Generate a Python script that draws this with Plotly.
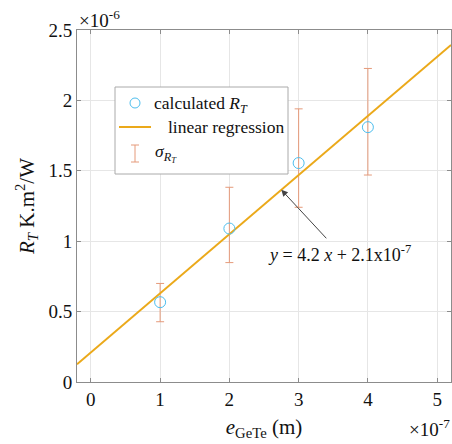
import plotly.graph_objects as go

# Data (x in units of 1e-7 m, y in units of 1e-6 K.m^2/W)
e_gete = [1, 2, 3, 4]
r_t = [0.567, 1.09, 1.555, 1.81]
r_t_err_plus = [0.133, 0.293, 0.385, 0.417]
r_t_err_minus = [0.139, 0.242, 0.314, 0.34]
fit_x = [-0.2, 5.2]
slope_scaled = 0.42   # 4.2 * 1e-7 / 1e-6
intercept_scaled = 0.21  # 2.1e-7 / 1e-6
fit_y = [slope_scaled * v + intercept_scaled for v in fit_x]
x_ticks = [0, 1, 2, 3, 4, 5]
y_ticks = [0, 0.5, 1, 1.5, 2, 2.5]
y_tick_text = ["0", "0.5", "1", "1.5", "2", "2.5"]

FONT = "Liberation Serif"
BLUE = "#4DBEEE"
ORANGE = "#EBA91A"
ERR = "#E59A7A"

W, H = 452, 444
L, R, T, B = 77, 1, 30, 62
pw, ph = W - L - R, H - T - B


def px(x):
    return (x - L) / pw


def py(y):
    return (H - B - y) / ph


fig = go.Figure()
fig.add_trace(go.Scatter(
    x=e_gete, y=r_t, mode="markers",
    marker=dict(size=1, color="rgba(0,0,0,0)"),
    error_y=dict(type="data", symmetric=False, array=r_t_err_plus,
                 arrayminus=r_t_err_minus, color=ERR, thickness=1, width=4),
    showlegend=False, hoverinfo="skip"))
fig.add_trace(go.Scatter(
    x=fit_x, y=fit_y, mode="lines",
    line=dict(color=ORANGE, width=2), showlegend=False))
fig.add_trace(go.Scatter(
    x=e_gete, y=r_t, mode="markers",
    marker=dict(symbol="circle-open", size=11, color=BLUE, line=dict(width=1, color=BLUE)),
    showlegend=False))

axis_common = dict(
    showline=True, linecolor="#8c8c8c", linewidth=1, mirror="ticks",
    ticks="inside", ticklen=4, tickcolor="#8c8c8c",
    showgrid=True, gridcolor="#e6e6e6", gridwidth=1, zeroline=False,
    tickfont=dict(family=FONT, size=19, color="#111"),
)

fig.update_layout(
    width=W, height=H,
    margin=dict(l=L, r=R, t=T, b=B, pad=0),
    paper_bgcolor="white", plot_bgcolor="white",
    font=dict(family=FONT, color="#111"),
    xaxis=dict(range=[-0.2, 5.2], tickvals=x_ticks, ticktext=[str(v) for v in x_ticks],
               title=dict(text="<i>e</i><sub>GeTe</sub> (m)", font=dict(family=FONT, size=21), standoff=10),
               **axis_common),
    yaxis=dict(range=[0, 2.5], tickvals=y_ticks, ticktext=y_tick_text,
               title=dict(text="<i>R</i><sub><i>T</i></sub> K.m<sup>2</sup>/W", font=dict(family=FONT, size=21), standoff=8),
               **axis_common),
)

# exponent labels
fig.add_annotation(text="×10<sup>-6</sup>", xref="paper", yref="paper",
                   x=px(77), y=py(19), xanchor="left", yanchor="middle", showarrow=False,
                   font=dict(family=FONT, size=19, color="#111"))
fig.add_annotation(text="×10<sup>-7</sup>", xref="paper", yref="paper",
                   x=px(452), y=py(428), xanchor="right", yanchor="middle", showarrow=False,
                   font=dict(family=FONT, size=19, color="#111"))

# regression arrow & equation
fig.add_annotation(x=2.75, y=slope_scaled * 2.75 + intercept_scaled, xref="x", yref="y",
                   ax=3.42, ay=1.01, axref="x", ayref="y", text="", showarrow=True,
                   arrowhead=2, arrowsize=1.3, arrowwidth=1, arrowcolor="#444")
fig.add_annotation(text="<i>y</i> = 4.2 <i>x</i> + 2.1x10<sup>-7</sup>", xref="paper", yref="paper",
                   x=px(339), y=py(253), xanchor="center", yanchor="middle", showarrow=False,
                   font=dict(family=FONT, size=18, color="#111"))

# manual legend
fig.add_shape(type="rect", xref="paper", yref="paper",
              x0=px(115), x1=px(288), y0=py(174), y1=py(87),
              line=dict(color="#aaaaaa", width=1), fillcolor="white", layer="above")
# circle symbol
fig.add_shape(type="circle", xref="paper", yref="paper",
              x0=px(130), x1=px(140), y0=py(108), y1=py(98),
              line=dict(color=BLUE, width=1), layer="above")
# line symbol
fig.add_shape(type="line", xref="paper", yref="paper",
              x0=px(119), x1=px(151), y0=py(127), y1=py(127),
              line=dict(color=ORANGE, width=2), layer="above")
# error bar symbol
fig.add_shape(type="line", xref="paper", yref="paper",
              x0=px(135), x1=px(135), y0=py(145), y1=py(162),
              line=dict(color=ERR, width=1), layer="above")
fig.add_shape(type="line", xref="paper", yref="paper",
              x0=px(131), x1=px(139), y0=py(145), y1=py(145),
              line=dict(color=ERR, width=1), layer="above")
fig.add_shape(type="line", xref="paper", yref="paper",
              x0=px(131), x1=px(139), y0=py(162), y1=py(162),
              line=dict(color=ERR, width=1), layer="above")

fig.add_annotation(text="calculated <i>R</i><sub><i>T</i></sub>", xref="paper", yref="paper",
                   x=px(152), y=py(104), xanchor="left", yanchor="middle", showarrow=False,
                   font=dict(family=FONT, size=17.5, color="#111"))
fig.add_annotation(text="linear regression", xref="paper", yref="paper",
                   x=px(166), y=py(127), xanchor="left", yanchor="middle", showarrow=False,
                   font=dict(family=FONT, size=17.5, color="#111"))
fig.add_annotation(text="<i>σ</i><sub><i>R</i><sub><i>T</i></sub></sub>", xref="paper", yref="paper",
                   x=px(153), y=py(153), xanchor="left", yanchor="middle", showarrow=False,
                   font=dict(family=FONT, size=17.5, color="#111"))

fig.write_html("out.html")
